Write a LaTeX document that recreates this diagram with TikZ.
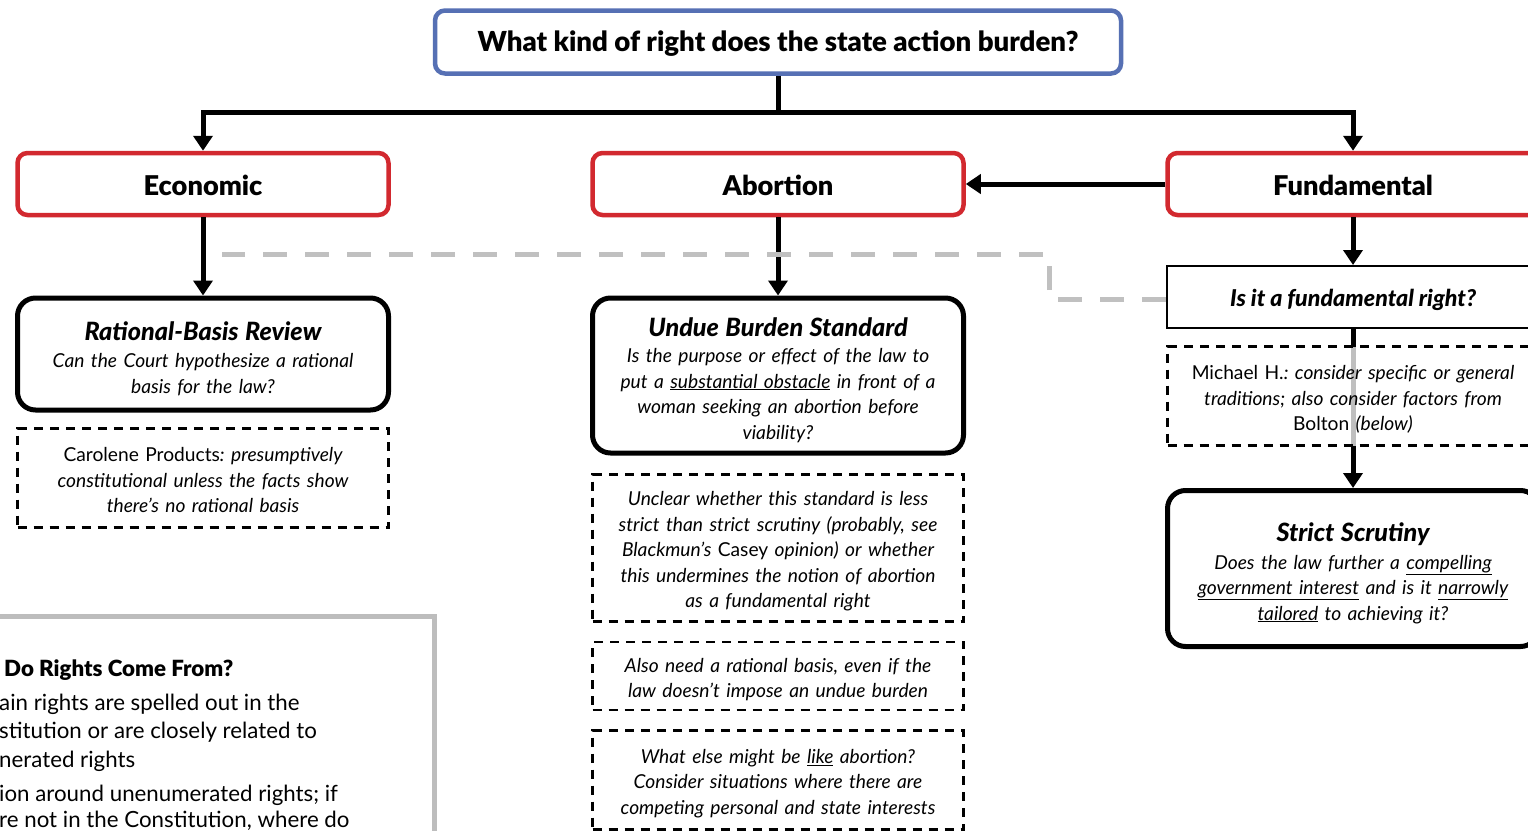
\documentclass[tikz,border=0pt]{standalone}
\usepackage{fontspec}
\setmainfont{Lato}[BoldFont={Lato Black},BoldItalicFont={Lato Black Italic}]
\usetikzlibrary{arrows.meta}
\frenchspacing
\definecolor{topblue}{HTML}{5670B4}
\definecolor{catred}{HTML}{D2292F}
\definecolor{dashgray}{HTML}{C0C0C0}
\definecolor{boxgray}{HTML}{BDBDBD}
\newcommand{\fsA}{\fontsize{27.2}{30}\selectfont}
\newcommand{\fsT}{\fontsize{25.2}{29}\selectfont}
\newcommand{\fsB}{\fontsize{19.2}{25.5}\selectfont}
\newcommand{\fsS}{\fontsize{22.3}{28}\selectfont}
\newcommand{\tstrut}{\rule{0pt}{28pt}}
\newcommand{\nstrut}{\rule{0pt}{21pt}}
\begin{document}
\begin{tikzpicture}[x=1pt,y=-1pt,
  topbox/.style={draw=topblue,line width=4.5pt,rounded corners=10pt,minimum width=686pt,minimum height=63pt,inner sep=0pt,text height=19pt,text depth=0pt,font=\fontsize{27.6}{30}\selectfont\bfseries},
  catbox/.style={draw=catred,line width=4.5pt,rounded corners=10pt,minimum width=371pt,minimum height=62pt,inner sep=0pt,text height=22pt,text depth=0pt,font=\fsA\bfseries},
  testbox/.style={draw=black,line width=5pt,rounded corners=18pt,minimum width=371pt,inner sep=0pt,text width=369pt,align=center,font=\fsB\itshape},
  notebox/.style={draw=black,line width=2.5pt,dash pattern=on 9pt off 7pt,minimum width=371pt,inner sep=0pt,text width=369pt,align=center,font=\fsB\itshape},
  qbox/.style={draw=black,line width=2pt,minimum width=372pt,minimum height=62pt,inner sep=0pt,text height=18pt,text depth=0pt,font=\fontsize{23.2}{27}\selectfont\bfseries\itshape},
  sidetext/.style={anchor=base west,inner sep=0pt,font=\fsS},
  arr/.style={line width=5pt,-{Triangle[width=19pt,length=15pt]}},
  graydash/.style={draw=dashgray,line width=5pt,dash pattern=on 24pt off 18pt}
]
\useasboundingbox (0,0) rectangle (1528,830);
\fill[white] (0,0) rectangle (1528,830);
\clip (0,0) rectangle (1528,830);

% top question
\node[topbox] (top) at (778,42) {What kind of right does the state action burden?};

% categories
\node[catbox] (econ) at (203,184) {Economic};
\node[catbox] (abort) at (778,184) {Abortion};
\node[catbox] (fund) at (1353,184) {Fundamental};

% economic column
\node[testbox,minimum height=112pt] (rbr) at (203,354)
  {\tstrut{\fsT\bfseries Rational-Basis Review}\\[2pt]
   Can the Court hypothesize a rational\\ basis for the law?};
\node[notebox,minimum height=99pt] (carol) at (203,478)
  {\rule{0pt}{19pt}{\upshape Carolene Products}: presumptively\\ constitutional unless the facts show\\ there’s no rational basis};

% abortion column
\node[testbox,minimum height=155pt] (undue) at (778,375.5)
  {\tstrut{\fsT\bfseries Undue Burden Standard}\\[0.5pt]
   Is the purpose or effect of the law to\\ put a \underline{substantial obstacle} in front of a\\ woman seeking an abortion before\\ viability?};
\node[notebox,minimum height=147pt] (unclear) at (778,548)
  {\nstrut Unclear whether this standard is less\\ strict than strict scrutiny (probably, see\\ Blackmun’s {\upshape Casey} opinion) or whether\\ this undermines the notion of abortion\\ as a fundamental right};
\node[notebox,minimum height=68pt] (also) at (778,676)
  {\nstrut Also need a rational basis, even if the\\ law doesn’t impose an undue burden};
\node[notebox,minimum height=99pt] (like) at (778,780)
  {\nstrut What else might be \underline{like} abortion?\\ Consider situations where there are\\ competing personal and state interests};

% fundamental column
\node[qbox] (isit) at (1353,297) {Is it a fundamental right?};
\node[testbox,minimum height=156pt] (strict) at (1353,568.5)
  {\tstrut{\fsT\bfseries Strict Scrutiny}\\[2pt]
   Does the law further a \underline{compelling}\\ \underline{government interest} and is it \underline{narrowly}\\ \underline{tailored} to achieving it?};
\draw[arr] (isit.south) -- (strict.north);
\node[notebox,minimum height=99pt,fill=white,fill opacity=0.75,text opacity=1] (michael) at (1353,396)
  {\nstrut{\upshape Michael H.}: consider specific or general\\ traditions; also consider factors from\\ {\upshape Bolton} (below)};

% connectors
\coordinate (hl) at (203,112);
\draw[arr] (top.south) -- (top.south |- hl) -| (econ.north);
\draw[arr] (top.south |- hl) -| (fund.north);
\draw[arr] (fund.west) -- (abort.east);
\draw[arr] (econ.south) -- (rbr.north);
\draw[arr] (abort.south) -- (undue.north);
\draw[arr] (fund.south) -- (isit.north);

% gray dashed path from "Is it a fundamental right?"
\coordinate (g1) at (1049,299);
\coordinate (g2) at (1049,254);
\coordinate (gl) at (222,254);
\draw[graydash] (isit.west |- g1) -- (g1) -- (g2) -- (gl);

% side box
\draw[boxgray,line width=5pt] (-20,616) -- (434,616) -- (434,860);
\node[sidetext,font=\fsS\bfseries] (where) at (4,676) {Do Rights Come From?};
\node[sidetext] (w1) at (-1,710) {ain rights are spelled out in the};
\node[sidetext] (w2) at (-1,738) {stitution or are closely related to};
\node[sidetext] (w3) at (-1,767) {nerated rights};
\node[sidetext] (w4) at (-1,801) {ion around unenumerated rights; if};
\node[sidetext] (w5) at (-1,827) {re not in the Constitution, where do};
\end{tikzpicture}
\end{document}
